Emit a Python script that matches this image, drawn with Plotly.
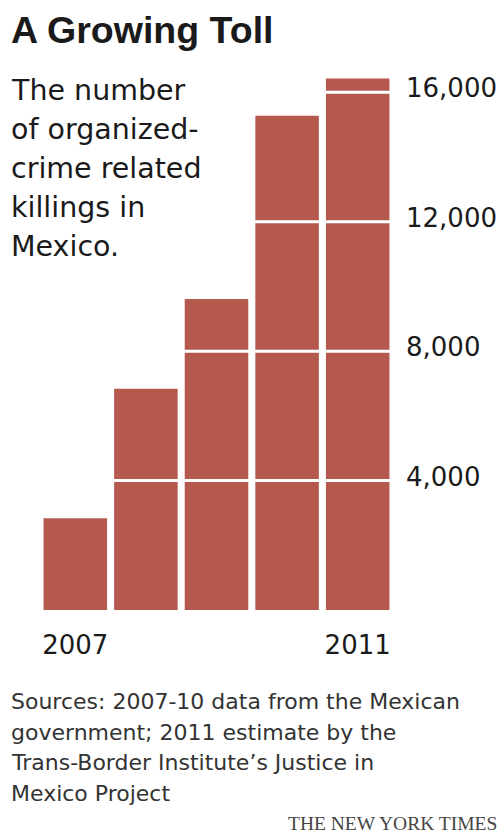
import plotly.graph_objects as go

# ---- data ----
years = [2007, 2008, 2009, 2010, 2011]
killings = [2837, 6837, 9614, 15273, 16430]
y_ticks = [4000, 8000, 12000, 16000]
y_tick_labels = ["4,000", "8,000", "12,000", "16,000"]
x_tick_years = [2007, 2011]

title_text = "A Growing Toll"
subtitle_lines = ["The number", "of organized-", "crime related", "killings in", "Mexico."]
source_lines = [
    "Sources: 2007-10 data from the Mexican",
    "government; 2011 estimate by the",
    "Trans-Border Institute\u2019s Justice in",
    "Mexico Project",
]
credit_text = "THE NEW YORK TIMES"

# ---- layout geometry ----
W, H = 503, 835
L, R, T, B = 40, 110, 60, 225
BAR = "#b5594f"


def py(p):
    return (H - B - p) / (H - T - B)


def px(p):
    return (p - L) / (W - L - R)


fig = go.Figure(
    go.Bar(x=years, y=killings, marker=dict(color=BAR, line=dict(width=0)), hoverinfo="x+y")
)

shapes = [
    dict(type="line", xref="paper", yref="y", x0=0, x1=1, y0=v, y1=v,
         line=dict(color="white", width=3), layer="above")
    for v in y_ticks
]

ann = []
ann.append(dict(text=title_text, x=px(9), y=py(30.5), xref="paper", yref="paper",
                xanchor="left", yanchor="middle", showarrow=False,
                font=dict(family="Liberation Sans", size=37.5, color="#1a1a1a", weight="bold")))
for i, line in enumerate(subtitle_lines):
    ann.append(dict(text=line, x=px(9), y=py(90.5 + 39 * i), xref="paper", yref="paper",
                    xanchor="left", yanchor="middle", showarrow=False,
                    font=dict(family="DejaVu Sans", size=28.5, color="#1a1a1a")))
for i, line in enumerate(source_lines):
    ann.append(dict(text=line, x=px(9), y=py(701.6 + 30.5 * i), xref="paper", yref="paper",
                    xanchor="left", yanchor="middle", showarrow=False,
                    font=dict(family="DejaVu Sans", size=22, color="#333333")))
ann.append(dict(text=credit_text, x=px(499), y=py(823.4), xref="paper", yref="paper",
                xanchor="right", yanchor="middle", showarrow=False,
                font=dict(family="Liberation Serif", size=19.5, color="#444444")))

fig.update_layout(
    width=W, height=H,
    margin=dict(l=L, r=R, t=T, b=B, pad=0, autoexpand=False),
    paper_bgcolor="white", plot_bgcolor="white",
    bargap=0.1,
    showlegend=False,
    shapes=shapes,
    annotations=ann,
    xaxis=dict(range=[2006.5, 2011.5], tickvals=x_tick_years, ticktext=[str(v) for v in x_tick_years],
               showgrid=False, zeroline=False, showline=False, ticks="", automargin=False,
               ticklabelstandoff=17,
               tickfont=dict(family="DejaVu Sans", size=26, color="#1a1a1a"), fixedrange=True),
    yaxis=dict(range=[0, 17000], side="right", tickvals=y_ticks, ticktext=y_tick_labels,
               showgrid=False, zeroline=False, showline=False, ticks="", automargin=False,
               ticklabelstandoff=12, ticklabelshift=-4,
               tickfont=dict(family="DejaVu Sans", size=26, color="#1a1a1a"), fixedrange=True),
)

fig.write_html(
    "out.html",
    config={"displayModeBar": False},
    post_script="document.body.style.margin='0';document.body.style.padding='0';document.body.style.overflow='hidden';",
)
